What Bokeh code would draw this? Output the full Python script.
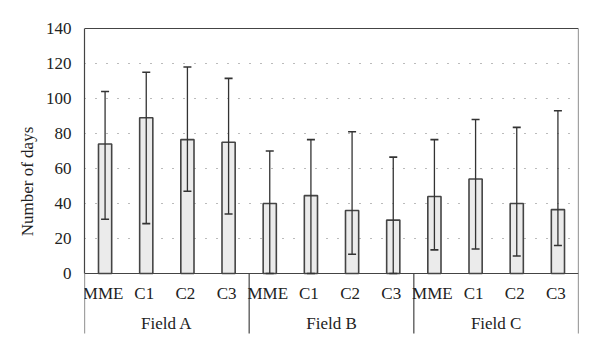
from bokeh.plotting import figure
from bokeh.models import Range1d, FixedTicker, ColumnDataSource, Whisker, TeeHead
from bokeh.core.properties import value
from bokeh.embed import file_html
from bokeh.resources import INLINE

fields = ["Field A", "Field B", "Field C"]
methods = ["MME", "C1", "C2", "C3"]
means = [74, 89, 76.5, 75, 40, 44.5, 36, 30.5, 44, 54, 40, 36.5]
upper = [104, 115, 118, 111.5, 70, 76.5, 81, 66.5, 76.5, 88, 83.5, 93]
lower = [31, 28.5, 47, 34, 0, 0, 11, 0, 13.5, 14, 10, 16]
y_ticks = [0, 20, 40, 60, 80, 100, 120, 140]

FONT = "Liberation Serif"
TXT = "#222222"
LN = "#444444"

n = len(means)
xs = [i + 0.5 for i in range(n)]
cat_labels = [m for _ in fields for m in methods]

p = figure(width=592, height=348, output_backend="svg", toolbar_location=None,
           x_range=Range1d(0, n), y_range=Range1d(-36, 141.14),
           min_border_left=84, min_border_right=14, min_border_top=26, min_border_bottom=12)
p.outline_line_color = None
p.xaxis.visible = False
p.xgrid.visible = False

ya = p.yaxis[0]
ya.bounds = (0, 140)
ya.ticker = FixedTicker(ticks=y_ticks)
ya.major_tick_line_color = None
ya.minor_tick_line_color = None
ya.major_tick_out = 0
ya.major_label_standoff = 13
ya.axis_line_color = LN
ya.axis_line_width = 1.2
ya.major_label_text_font = FONT
ya.major_label_text_font_size = "17px"
ya.major_label_text_color = TXT
ya.axis_label = "Number of days"
ya.axis_label_text_font = FONT
ya.axis_label_text_font_size = "17px"
ya.axis_label_text_font_style = "normal"
ya.axis_label_text_color = TXT
ya.axis_label_standoff = 6

p.ygrid.ticker = FixedTicker(ticks=y_ticks[1:-1])
p.ygrid.grid_line_color = "#777777"
p.ygrid.grid_line_dash = "1 10"
p.ygrid.grid_line_width = 1.2

src = ColumnDataSource(dict(x=xs, top=means, upper=upper, lower=lower, lab=cat_labels))

p.vbar(x="x", top="top", width=0.32, bottom=0, source=src,
       fill_color="#ebebeb", line_color=LN, line_width=1.6)

w = Whisker(base="x", upper="upper", lower="lower", source=src, level="overlay",
            line_color="#333333", line_width=1.3,
            upper_head=TeeHead(size=8, line_color="#333333", line_width=1.6),
            lower_head=TeeHead(size=8, line_color="#333333", line_width=1.6))
p.add_layout(w)

# frame lines
p.segment(x0=[0, 0], y0=[140, 0], x1=[n, n], y1=[140, 0], line_color=LN, line_width=1.2)
div_x = [0, 4, 8, 12]
p.segment(x0=div_x, y0=[0, 0, 0, 140], x1=div_x, y1=[-34.3] * 4, line_color=LN, line_width=1.2)

# category labels
p.text(x="x", y=-11.5, text="lab", source=src, text_align="center", text_baseline="middle",
       x_offset=-2, text_font=value(FONT), text_font_size="17px", text_color=TXT)
p.text(x=[2, 6, 10], y=[-28.5] * 3, text=fields, text_align="center", text_baseline="middle",
       text_font=value(FONT), text_font_size="17px", text_color=TXT)

open("out.html", "w").write(file_html(p, INLINE))
